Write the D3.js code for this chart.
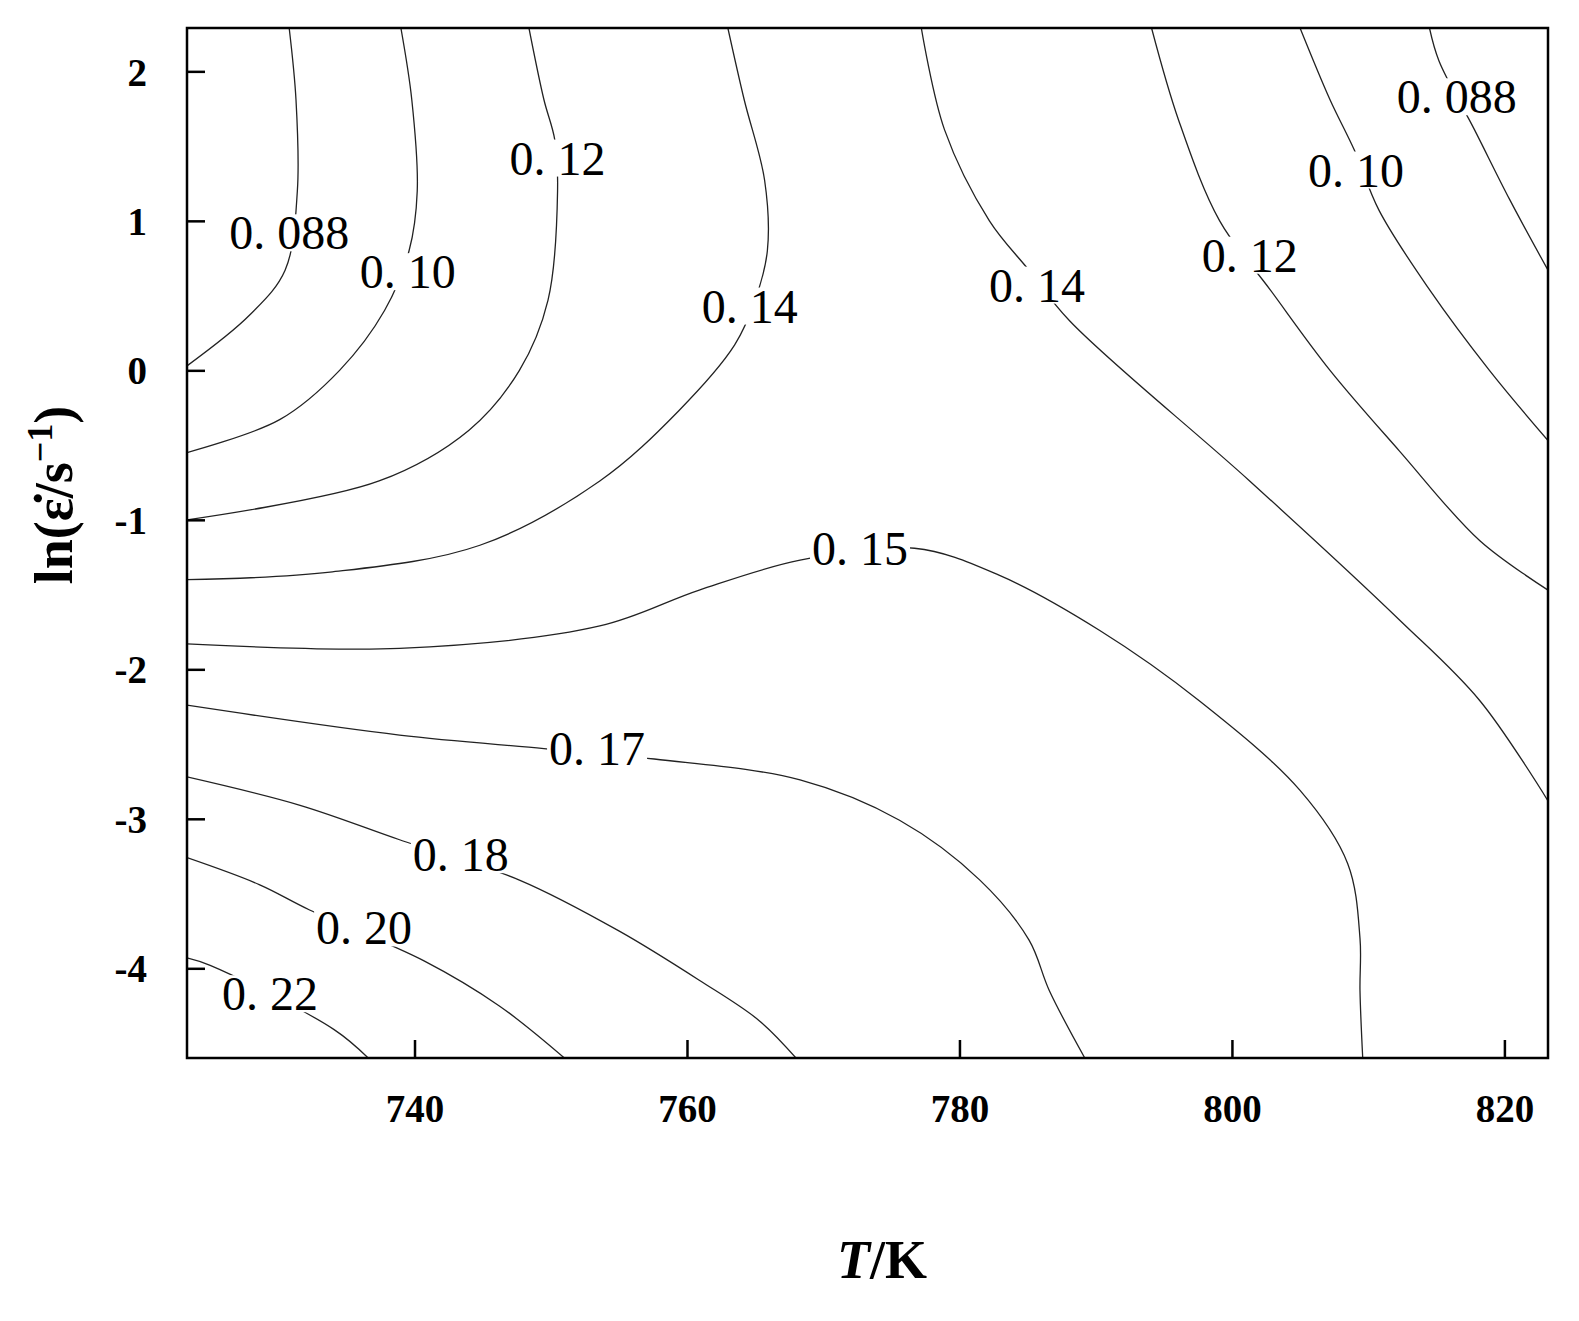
<!DOCTYPE html>
<html><head><meta charset="utf-8">
<script src="https://cdn.jsdelivr.net/npm/d3@7"></script>
<style>body{margin:0;background:#fff}</style></head>
<body><svg id="c" width="1579" height="1321"></svg>
<script>
const xTicks=[740,760,780,800,820];
const yTicks=[2,1,0,-1,-2,-3,-4];
const levels=["0. 088","0. 10","0. 12","0. 14","0. 14","0. 12","0. 10","0. 088","0. 15","0. 17","0. 18","0. 20","0. 22"];
const line088L=[[730.8,2.29],[731.3,1.81],[731.4,1.2],[730.5,0.67],[727.9,0.37],[723.3,0.03]];
const line10L=[[739.0,2.29],[739.8,1.81],[740.2,1.2],[739.6,0.8],[737.8,0.4],[734.5,0],[730.1,-0.33],[723.3,-0.55]];
const line12L=[[748.4,2.29],[749.5,1.81],[750.3,1.54],[750.5,1.2],[749.8,0.47],[747.7,0],[744.0,-0.4],[737.4,-0.74],[723.3,-1.0]];
const line14L=[[763.0,2.29],[764.2,1.81],[765.7,1.27],[765.9,0.8],[765.0,0.47],[763.5,0.17],[759.4,-0.27],[753.6,-0.74],[744.8,-1.17],[733.8,-1.35],[723.3,-1.4]];
const line14R=[[777.2,2.29],[778.9,1.61],[782.2,1.0],[785.1,0.67],[788.1,0.33],[801.3,-0.74],[812.3,-1.67],[818.2,-2.21],[823.2,-2.88]];
const line12R=[[794.1,2.29],[796.1,1.67],[799.1,1.0],[802.8,0.54],[807.2,0],[812.3,-0.54],[818.2,-1.14],[823.2,-1.47]];
const line10R=[[805.0,2.29],[807.2,1.81],[809.0,1.47],[810.8,1.07],[814.5,0.54],[818.9,0],[823.2,-0.47]];
const line088R=[[814.5,2.29],[815.2,2.07],[817.8,1.61],[820.4,1.14],[823.2,0.67]];
const line15=[[723.3,-1.83],[738.9,-1.86],[753.6,-1.71],[760.9,-1.47],[768.3,-1.27],[776.7,-1.19],[782.9,-1.37],[790.3,-1.74],[797.6,-2.21],[805.0,-2.81],[808.5,-3.3],[809.4,-3.8],[809.4,-4.15],[809.6,-4.6]];
const line17=[[723.3,-2.24],[738.9,-2.44],[749.5,-2.53],[757.6,-2.6],[768.3,-2.74],[775.6,-3.01],[781.5,-3.41],[785.1,-3.81],[786.6,-4.15],[789.2,-4.6]];
const line18=[[723.3,-2.72],[731.6,-2.91],[738.9,-3.14],[747.7,-3.41],[755.0,-3.75],[760.9,-4.08],[765.3,-4.35],[768.0,-4.6]];
const line20=[[723.3,-3.26],[728.6,-3.44],[732.3,-3.61],[740.7,-3.95],[746.2,-4.25],[751.0,-4.6]];
const line22=[[723.3,-3.93],[725.0,-3.98],[734.1,-4.41],[736.6,-4.6]];
const lines=[line088L,line10L,line12L,line14L,line14R,line12R,line10R,line088R,line15,line17,line18,line20,line22];
const labelPos=[[730.8,0.92],[739.5,0.66],[750.5,1.42],[764.6,0.43],[785.7,0.57],[801.3,0.77],[809.1,1.34],[816.5,1.83],[772.7,-1.19],[753.4,-2.53],[743.4,-3.24],[736.3,-3.73],[729.4,-4.17]];

const svg=d3.select("#c");
const L=187,R=1548,T=28,B=1058;
const x=d3.scaleLinear().domain([723.3,823.2]).range([L,R]);
const y=d3.scaleLinear().domain([-4.6,2.29]).range([B,T]);
svg.append("clipPath").attr("id","cp").append("rect").attr("x",L).attr("y",T).attr("width",R-L).attr("height",B-T);
const g=svg.append("g").attr("clip-path","url(#cp)");
const ln=d3.line().x(d=>x(d[0])).y(d=>y(d[1])).curve(d3.curveCatmullRom);
lines.forEach(l=>g.append("path").attr("d",ln(l)).attr("fill","none").attr("stroke","#222").attr("stroke-width",1.3));
labelPos.forEach((p,i)=>{
  const t=g.append("text").attr("x",x(p[0])).attr("y",y(p[1])).attr("text-anchor","middle").attr("dominant-baseline","central")
   .attr("font-family","Liberation Serif").attr("font-size",48).text(levels[i]);
  const b=t.node().getBBox();
  g.insert("rect","text:last-of-type").attr("x",b.x-2).attr("y",b.y+8).attr("width",b.width+4).attr("height",b.height-16).attr("fill","#fff");
  t.raise();
});
svg.append("rect").attr("x",L).attr("y",T).attr("width",R-L).attr("height",B-T).attr("fill","none").attr("stroke","#000").attr("stroke-width",2.5);
const ax=svg.append("g").attr("transform",`translate(0,${B})`).call(d3.axisBottom(x).tickValues(xTicks).tickSize(-18).tickPadding(36).tickFormat(d3.format("d")));
const ay=svg.append("g").attr("transform",`translate(${L},0)`).call(d3.axisLeft(y).tickValues(yTicks).tickSize(-18).tickPadding(40).tickFormat(d=>d));
[ax,ay].forEach(a=>{a.select(".domain").remove();a.selectAll("line").attr("stroke","#000").attr("stroke-width",2.5);
 a.selectAll("text").attr("font-family","Liberation Serif").attr("font-weight","bold").attr("font-size",39).attr("fill","#000");});
ay.selectAll("text").attr("dy","0.35em");
svg.append("text").attr("x",882).attr("y",1278).attr("text-anchor","middle").attr("font-family","Liberation Serif").attr("font-weight","bold").attr("font-size",54)
 .html('<tspan font-style="italic">T</tspan>/K');
svg.append("text").attr("transform","translate(72,495) rotate(-90)").attr("text-anchor","middle").attr("font-family","Liberation Serif").attr("font-weight","bold").attr("font-size",54)
 .html('ln(ε̇/s<tspan dy="-20" font-size="36">−1</tspan><tspan dy="20">)</tspan>');
</script></body></html>
